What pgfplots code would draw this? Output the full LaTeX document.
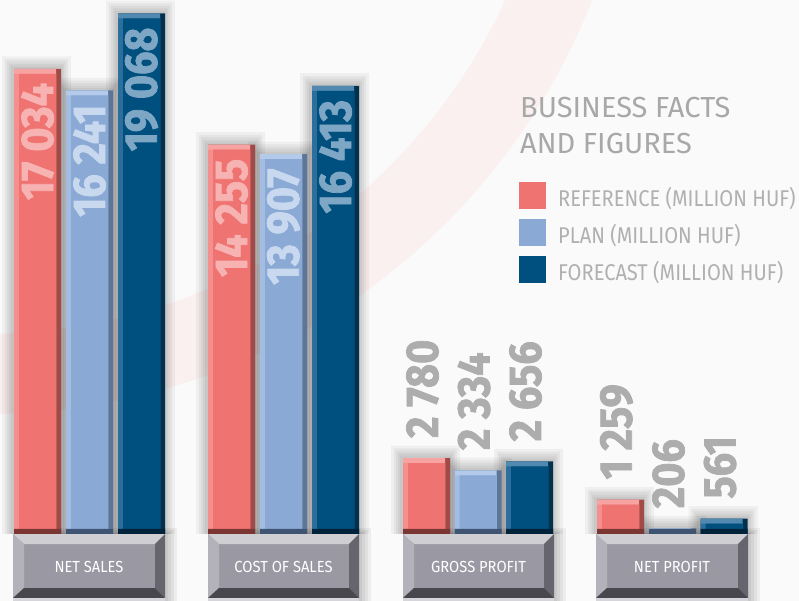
\documentclass[border=0pt]{standalone}
\usepackage{pgfplots}
\pgfplotsset{compat=1.18}
\usepackage{pgfplotstable}
\usepackage{fontspec}
\setmainfont{Fira Sans}
\newfontfamily\numfont{Fira Sans}[FakeStretch=0.9, BoldFeatures={FakeBold=1.6}]
\newfontfamily\legtxtfont{Fira Sans}[FakeStretch=0.88]
\newfontfamily\cattxtfont{Fira Sans}[FakeStretch=0.92]
\newfontfamily\titletxtfont{Fira Sans}[FakeStretch=1.0]

\definecolor{bgcol}{HTML}{FAFAFA}
\definecolor{arccol}{HTML}{FBF0F0}
\definecolor{rM}{HTML}{EF7371}\definecolor{rL}{HTML}{F48F8D}\definecolor{rT}{HTML}{F6A3A1}
\definecolor{rR}{HTML}{A14A48}\definecolor{rB}{HTML}{7B3634}\definecolor{rLab}{HTML}{F7B3B2}
\definecolor{pM}{HTML}{8AA9D4}\definecolor{pL}{HTML}{A3BDE2}\definecolor{pT}{HTML}{B3CAEA}
\definecolor{pR}{HTML}{5C7699}\definecolor{pB}{HTML}{3E5472}\definecolor{pLab}{HTML}{C8D8EE}
\definecolor{fM}{HTML}{00507F}\definecolor{fL}{HTML}{2C6F9C}\definecolor{fT}{HTML}{5289B1}
\definecolor{fR}{HTML}{00324F}\definecolor{fB}{HTML}{00223A}\definecolor{fLab}{HTML}{7EA6C5}
\definecolor{grayLab}{HTML}{ADADAD}
\definecolor{titlecol}{HTML}{A8A8A8}
\definecolor{legcol}{HTML}{B0B0B0}
\definecolor{boxface}{HTML}{9A98A3}\definecolor{boxtop}{HTML}{CFCED3}
\definecolor{boxleft}{HTML}{B3B1B9}\definecolor{boxright}{HTML}{66646C}
\definecolor{boxbottom}{HTML}{48474D}\definecolor{boxbase}{HTML}{D6D5DA}

\pgfplotstableread{
x y
37.5 17034
231.5 14255
426.5 2780
620.5 1259
}\refdata
\pgfplotstableread{
x y
89.5 16241
283.5 13907
478 2334
672.5 206
}\plandata
\pgfplotstableread{
x y
141.5 19068
335.5 16413
529.5 2656
724 561
}\fcdata

\newcommand\vfont{\numfont\bfseries\fontsize{46}{46}\selectfont}
\newcommand\catfont{\cattxtfont\fontsize{16}{16}\selectfont}
\newcommand\titlefont{\titletxtfont\fontsize{29}{30}\selectfont}
\newcommand\legfont{\legtxtfont\fontsize{22.8}{24}\selectfont}

\newcommand\boxshadow[4]{%
 \fill[black, fill opacity=0.05] (#1,#2) rectangle (#3,#4);}
\newcommand\catbox[6]{%
 \boxshadow{#1+3}{528}{#4+12}{601}
 \boxshadow{#1+5}{530}{#4+9}{601}
 \boxshadow{#1+6}{532}{#4+6}{601}
 \boxshadow{#1+7}{533}{#4+3}{601}
 \fill[boxface] (#1,534) rectangle (#4,598);
 \fill[boxtop] (#1,534) -- (#4,534) -- (#3,544) -- (#2,544) -- cycle;
 \fill[boxleft] (#1,534) -- (#2,544) -- (#2,588) -- (#1,598) -- cycle;
 \fill[boxright] (#4,534) -- (#4,598) -- (#3,588) -- (#3,544) -- cycle;
 \fill[boxbottom] (#1,598) -- (#4,598) -- (#3,588) -- (#2,588) -- cycle;
 \fill[boxbase] (#1,598) rectangle (#4,601);
 \node[text=white, font=\catfont, inner sep=0pt] at (#5,567) {#6};
}
\newcommand\inlab[4]{\node[text=#4, font=\vfont, yshift=-14pt, rotate=90, anchor=east, inner sep=0pt] at (axis cs:#1,#2) {#3};}
\newcommand\outlab[3]{\node[text=grayLab, font=\vfont, xshift=-4pt, yshift=20pt, rotate=90, anchor=west, inner sep=0pt] at (axis cs:#1,#2) {#3};}

\pgfplotsset{
 layer/.style 2 args={ybar, bar width=#1, bar shift=0pt, draw=none, fill=#2},
 shad/.style={ybar, bar width=#1, bar shift=0pt, draw=none, fill=black, fill opacity=0.045, forget plot},
}
% soft shadow: several growing translucent bars
\newcommand\shadows[1]{%
 \addplot[shad=51] table[x expr=\thisrow{x}-1, y expr=\thisrow{y}+90] {#1};
 \addplot[shad=55] table[x expr=\thisrow{x}-1, y expr=\thisrow{y}+180] {#1};
 \addplot[shad=59] table[x expr=\thisrow{x}-1, y expr=\thisrow{y}+270] {#1};
 \addplot[shad=63] table[x expr=\thisrow{x}-1, y expr=\thisrow{y}+360] {#1};
 \addplot[shad=69] table[x expr=\thisrow{x}-1, y expr=\thisrow{y}+460] {#1};
}

\begin{document}
\begin{tikzpicture}
% decoration axis in pixel coordinates
\begin{axis}[at={(0,0)}, anchor=south west, scale only axis, width=799pt, height=601pt,
  xmin=0, xmax=799, ymin=0, ymax=601, y dir=reverse, hide axis]
\fill[bgcol] (0,0) rectangle (799,601);
\draw[arccol, line width=80pt] (-15,-238) circle[radius=612pt];
\catbox{13}{24}{155}{165}{89}{NET SALES}
\catbox{208}{219}{349}{359}{283.5}{COST OF SALES}
\catbox{403}{414}{544}{554}{478.5}{GROSS PROFIT}
\catbox{596}{607}{738}{748}{672}{NET PROFIT}
\node[anchor=base west, inner sep=0pt, text=titlecol, font=\titlefont] at (520,118) {BUSINESS FACTS};
\node[anchor=base west, inner sep=0pt, text=titlecol, font=\titlefont] at (520,154) {AND FIGURES};
\end{axis}
% data axis
\begin{axis}[at={(0,0)}, anchor=south west, scale only axis, width=799pt, height=601pt,
  xmin=0, xmax=799, ymin=-2453.6, ymax=19555.3, hide axis,
  legend style={draw=none, fill=none, at={(rel axis cs:0.6496,0.6972)}, anchor=north west,
    inner sep=0pt, row sep=10pt, font=\legfont, text=legcol, nodes={inner sep=0pt},
    /tikz/every odd column/.append style={column sep=12pt}},
  legend cell align=left,
  legend image code/.code={\fill[#1,/tikz/.cd] (0pt,-11.3pt) rectangle (27pt,15.7pt);}]
% shadows
\shadows{\refdata}
\shadows{\plandata}
\shadows{\fcdata}
% reference
\addplot[layer={47}{rR}, forget plot] table {\refdata};
\addplot[layer={42}{rT}, forget plot] table[x expr=\thisrow{x}-2.5] {\refdata};
\addplot[layer={42}{rL}, forget plot] table[x expr=\thisrow{x}-2.5, y expr=\thisrow{y}-183] {\refdata};
\addplot[layer={37}{rM}] table[y expr=\thisrow{y}-183] {\refdata};
\addlegendentry{REFERENCE (MILLION HUF)}
\addplot[layer={47}{rB}, forget plot] table[y expr={min(\thisrow{y},183)}] {\refdata};
% plan
\addplot[layer={47}{pR}, forget plot] table {\plandata};
\addplot[layer={42}{pT}, forget plot] table[x expr=\thisrow{x}-2.5] {\plandata};
\addplot[layer={42}{pL}, forget plot] table[x expr=\thisrow{x}-2.5, y expr=\thisrow{y}-183] {\plandata};
\addplot[layer={37}{pM}] table[y expr=\thisrow{y}-183] {\plandata};
\addlegendentry{PLAN (MILLION HUF)}
\addplot[layer={47}{pB}, forget plot] table[y expr={min(\thisrow{y},183)}] {\plandata};
% forecast
\addplot[layer={47}{fR}, forget plot] table {\fcdata};
\addplot[layer={42}{fT}, forget plot] table[x expr=\thisrow{x}-2.5] {\fcdata};
\addplot[layer={42}{fL}, forget plot] table[x expr=\thisrow{x}-2.5, y expr=\thisrow{y}-183] {\fcdata};
\addplot[layer={37}{fM}] table[y expr=\thisrow{y}-183] {\fcdata};
\addlegendentry{FORECAST (MILLION HUF)}
\addplot[layer={47}{fB}, forget plot] table[y expr={min(\thisrow{y},183)}] {\fcdata};
% value labels
\inlab{37.5}{17034}{17 034}{rLab}
\inlab{89.5}{16241}{16 241}{pLab}
\inlab{141.5}{19068}{19 068}{fLab}
\inlab{231.5}{14255}{14 255}{rLab}
\inlab{283.5}{13907}{13 907}{pLab}
\inlab{335.5}{16413}{16 413}{fLab}
\outlab{426.5}{2780}{2 780}
\outlab{478}{2334}{2 334}
\outlab{529.5}{2656}{2 656}
\outlab{620.5}{1259}{1 259}
\outlab{672.5}{206}{206}
\outlab{724}{561}{561}
\end{axis}
\pgfresetboundingbox
\path (0,0) rectangle (799pt,601pt);
\end{tikzpicture}
\end{document}
